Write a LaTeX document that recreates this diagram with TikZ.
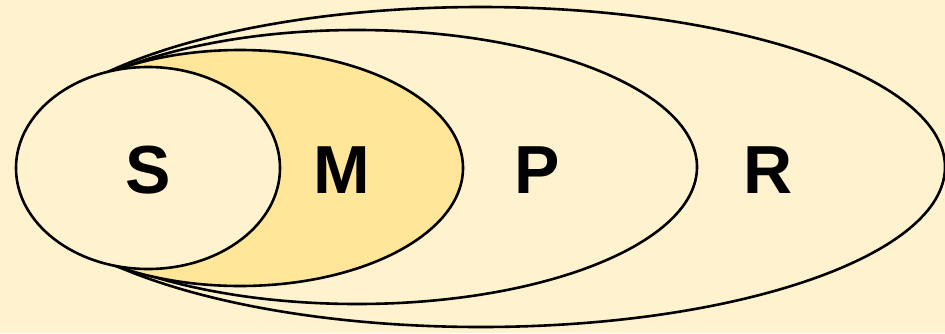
\documentclass[tikz,border=0pt]{standalone}
\usepackage{fontspec}
\setmainfont{Liberation Sans}
\definecolor{bgc}{HTML}{FFF2CF}
\definecolor{goldc}{HTML}{FFE699}
\begin{document}
\begin{tikzpicture}[x=1pt,y=-1pt,
  setline/.style={draw=black,line width=2.6pt},
  lbl/.style={font=\fontsize{68}{80}\selectfont\bfseries,inner sep=0pt,anchor=base}]
\fill[bgc] (0,0) rectangle (945,333);
\useasboundingbox (0,0) rectangle (945,333);
\begin{scope}
\clip (0,0) rectangle (945,333);
\path[setline,fill=bgc] (481,167) ellipse [x radius=464,y radius=160];
\path[setline,fill=bgc] (357,167) ellipse [x radius=340,y radius=137];
\path[setline,fill=goldc] (240,168) ellipse [x radius=223,y radius=118];
\path[setline,fill=bgc] (148,168) ellipse [x radius=132,y radius=101];
\end{scope}
\node[lbl] (s) at (148,193) {S};
\node[lbl] (m) at (342,193) {M};
\node[lbl] (p) at (537,193) {P};
\node[lbl] (r) at (768,193) {R};
\end{tikzpicture}
\end{document}
